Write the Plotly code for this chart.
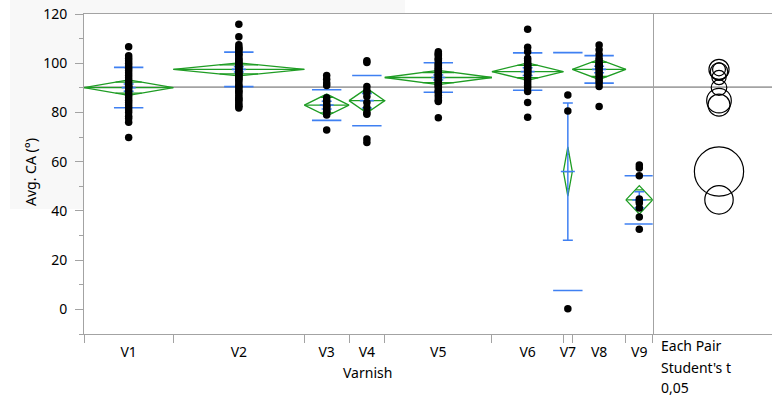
import numpy as np
import plotly.graph_objects as go

# ---------------- data ----------------
varnish = ["V1", "V2", "V3", "V4", "V5", "V6", "V7", "V8", "V9"]
counts = [30, 44, 15, 12, 36, 24, 3, 18, 9]
means = [90.1, 97.5, 83.0, 84.8, 94.2, 96.6, 56.0, 97.5, 44.5]
std_devs = [8.2, 7.0, 6.2, 10.2, 6.0, 7.6, 48.3, 5.6, 9.8]
grand_mean = 90.3
root_mse = 8.78
t_crit = 1.973
y_tick_vals = [0, 20, 40, 60, 80, 100, 120]

v1_values = [106.7, 103, 102, 101, 100, 99, 98, 97, 96, 95, 94, 93, 92, 91, 90.5,
             90, 89, 88, 87, 86, 85, 84, 83, 82, 81, 80, 78.5, 77.5, 76, 69.8]
v2_values = [115.8, 110.8, 107.5, 106.5, 106, 105.5, 105, 104, 103.5, 103, 102, 101.5,
             101, 100.5, 100, 99.5, 99, 98.5, 98, 97.5, 97, 96.5, 96, 95.5, 95, 94.5,
             94, 93.5, 93, 92, 91, 90.5, 90, 89, 88.5, 88, 87, 86, 85.5, 85, 84, 83,
             82.5, 81.8]
v3_values = [95, 93.5, 92, 91, 86, 85, 84, 83, 82.5, 82, 81, 80.5, 80, 79, 72.9]
v4_values = [101, 100.3, 90.5, 89, 88, 86.5, 84, 82, 80, 79.3, 69.2, 67.8]
v5_values = [104.7, 104, 103.5, 103, 102, 101.5, 101, 100, 99.5, 99, 98.5, 98, 97.5,
             97, 96.5, 96, 95.5, 95, 94.5, 94, 93.5, 93, 92.5, 92, 91.5, 91, 90.5, 90,
             89, 88.5, 88, 87, 86, 85, 84.5, 77.9]
v6_values = [113.8, 106.5, 104.7, 102, 101, 100, 99.5, 99, 98.5, 98, 97.5, 97, 96.5,
             96, 95.5, 95, 94, 93, 92, 91, 90, 88.5, 84, 78.1]
v7_values = [87.1, 80.6, 0.3]
v8_values = [107.4, 105.5, 103.5, 102, 101, 100, 99.5, 99, 98.5, 98, 97, 96, 95, 94,
             93, 92, 90.5, 82.4]
v9_values = [58.7, 57.4, 54.3, 44.8, 44.0, 43.2, 41.2, 37.5, 32.6]
group_values = [v1_values, v2_values, v3_values, v4_values, v5_values,
                v6_values, v7_values, v8_values, v9_values]
panel_label_lines = ["Each Pair", "Student's t", "0,05"]

# ---------------- layout constants (pixels) ----------------
W, H = 772, 398
L, T, B, R = 84, 14, 64, 0
plot_w = W - L - R
plot_h = H - T - B
main_right_px = 652.7
main_frac = (main_right_px - L) / plot_w
y_range = [-10, 120]
ppu_y = plot_h / (y_range[1] - y_range[0])
right_w_px = W - R - main_right_px
x2_range = [0, right_w_px / ppu_y]
circle_cx = 66.3 / ppu_y

GREEN = "#1f9d24"
BLUE = "#3f80f2"
GRAY = "#a3a3a3"
FONT = "Noto Sans"

counts_a = np.array(counts, dtype=float)
bounds = np.concatenate([[0], np.cumsum(counts_a)])
centers = bounds[:-1] + counts_a / 2
means_a = np.array(means)
sd_a = np.array(std_devs)
se_a = sd_a / np.sqrt(counts_a)
ci_a = t_crit * root_mse / np.sqrt(counts_a)

fig = go.Figure()

# means diamonds + overlap marks
dx, dy = [], []
for i in range(len(varnish)):
    x0, x1, xc = bounds[i], bounds[i + 1], centers[i]
    m, h = means_a[i], ci_a[i]
    dx += [x0, xc, x1, xc, x0, None, x0, x1, None]
    dy += [m, m + h, m, m - h, m, None, m, m, None]
    k = 1 / np.sqrt(2)
    half = (x1 - x0) / 2 * (1 - k)
    for s in (1, -1):
        dx += [xc - half, xc + half, None]
        dy += [m + s * h * k, m + s * h * k, None]
fig.add_trace(go.Scatter(x=dx, y=dy, mode="lines", line=dict(color=GREEN, width=1.3),
                         hoverinfo="skip", showlegend=False))

# std dev lines
fig.add_trace(go.Scatter(
    x=np.concatenate([centers, centers]),
    y=np.concatenate([means_a + sd_a, means_a - sd_a]),
    mode="markers",
    marker=dict(symbol="line-ew", size=21, line=dict(color=BLUE, width=1.6)),
    hoverinfo="skip", showlegend=False))

# mean error bars
fig.add_trace(go.Scatter(
    x=centers, y=means_a, mode="markers",
    marker=dict(symbol="line-ew", size=10, line=dict(color=BLUE, width=1.6)),
    error_y=dict(type="data", array=se_a, color=BLUE, thickness=1.5, width=5),
    hoverinfo="skip", showlegend=False))

# data points
px, py = [], []
for i, vals in enumerate(group_values):
    px += [centers[i]] * len(vals)
    py += vals
fig.add_trace(go.Scatter(x=px, y=py, mode="markers",
                         marker=dict(color="black", size=7.5),
                         showlegend=False))

# invisible trace on x2 so the axis renders
fig.add_trace(go.Scatter(x=[circle_cx], y=[grand_mean], xaxis="x2", yaxis="y",
                         mode="markers", marker=dict(opacity=0),
                         hoverinfo="skip", showlegend=False))
# invisible trace for the category-label axis
fig.add_trace(go.Scatter(x=centers, y=means_a, xaxis="x3", yaxis="y",
                         mode="markers", marker=dict(opacity=0),
                         hoverinfo="skip", showlegend=False))

shapes = []
# light grey background regions
shapes.append(dict(type="rect", xref="paper", yref="paper",
                   x0=(10 - L) / plot_w, x1=-0.0005,
                   y0=(T + plot_h - 209) / plot_h, y1=(T + plot_h) / plot_h,
                   fillcolor="#f8f8f8", line=dict(width=0), layer="below"))
shapes.append(dict(type="rect", xref="paper", yref="paper",
                   x0=(10 - L) / plot_w, x1=(405 - L) / plot_w,
                   y0=(T + plot_h - 13) / plot_h, y1=(T + plot_h) / plot_h,
                   fillcolor="#f8f8f8", line=dict(width=0), layer="below"))
# grand mean line
shapes.append(dict(type="line", xref="paper", yref="y", x0=0, x1=1,
                   y0=grand_mean, y1=grand_mean,
                   line=dict(color=GRAY, width=1.6), layer="below"))
# comparison circles
for i in range(len(varnish)):
    r = ci_a[i]
    shapes.append(dict(type="circle", xref="x2", yref="y",
                       x0=circle_cx - r, x1=circle_cx + r,
                       y0=means_a[i] - r, y1=means_a[i] + r,
                       line=dict(color="black", width=1.2)))

annotations = [
    dict(text="Avg. CA (°)", xref="paper", yref="paper",
         x=(30 - L) / plot_w, y=(T + plot_h - 172) / plot_h,
         textangle=-90, showarrow=False, xanchor="center", yanchor="middle",
         font=dict(family=FONT, size=14, color="black")),
    dict(text="Varnish", xref="paper", yref="paper",
         x=(367 - L) / plot_w, y=(T + plot_h - 372.7) / plot_h,
         showarrow=False, xanchor="center", yanchor="middle",
         font=dict(family=FONT, size=14, color="black")),
]
for txt, yc in zip(panel_label_lines, [345.0, 367.0, 387.5]):
    annotations.append(dict(text=txt, xref="paper", yref="paper",
                            x=(660 - L) / plot_w, y=(T + plot_h - yc) / plot_h,
                            showarrow=False, xanchor="left", yanchor="middle",
                            borderpad=0,
                            font=dict(family=FONT, size=14, color="black")))

fig.update_layout(
    width=W, height=H,
    margin=dict(l=L, r=R, t=T, b=B),
    paper_bgcolor="white", plot_bgcolor="white",
    showlegend=False,
    font=dict(family=FONT, size=14, color="black"),
    xaxis=dict(domain=[0, main_frac], range=[bounds[0], bounds[-1]],
               tickvals=bounds, showticklabels=False,
               ticks="outside", ticklen=8, tickcolor=GRAY, tickwidth=1,
               showline=True, linecolor=GRAY, linewidth=1, mirror=True,
               showgrid=False, zeroline=False),
    xaxis3=dict(overlaying="x", anchor="y", range=[bounds[0], bounds[-1]],
                tickvals=centers, ticktext=varnish, ticks="",
                ticklabelstandoff=8,
                tickfont=dict(family=FONT, size=14, color="black"),
                showline=False, showgrid=False, zeroline=False, side="bottom"),
    xaxis2=dict(domain=[main_frac, 1], range=x2_range, anchor="y",
                showticklabels=False, ticks="",
                showline=True, linecolor=GRAY, linewidth=1, mirror=True,
                showgrid=False, zeroline=False),
    yaxis=dict(range=y_range, tickvals=y_tick_vals,
               ticks="outside", ticklen=8, tickcolor=GRAY, tickwidth=1,
               minor=dict(dtick=10, tick0=0, ticks="outside", ticklen=4,
                          tickcolor=GRAY, showgrid=False),
               ticklabelstandoff=5,
               tickfont=dict(family=FONT, size=14, color="black"),
               showline=True, linecolor=GRAY, linewidth=1, mirror=True,
               showgrid=False, zeroline=False),
    shapes=shapes,
    annotations=annotations,
)

fig.write_html("out.html", config={"displayModeBar": False})
